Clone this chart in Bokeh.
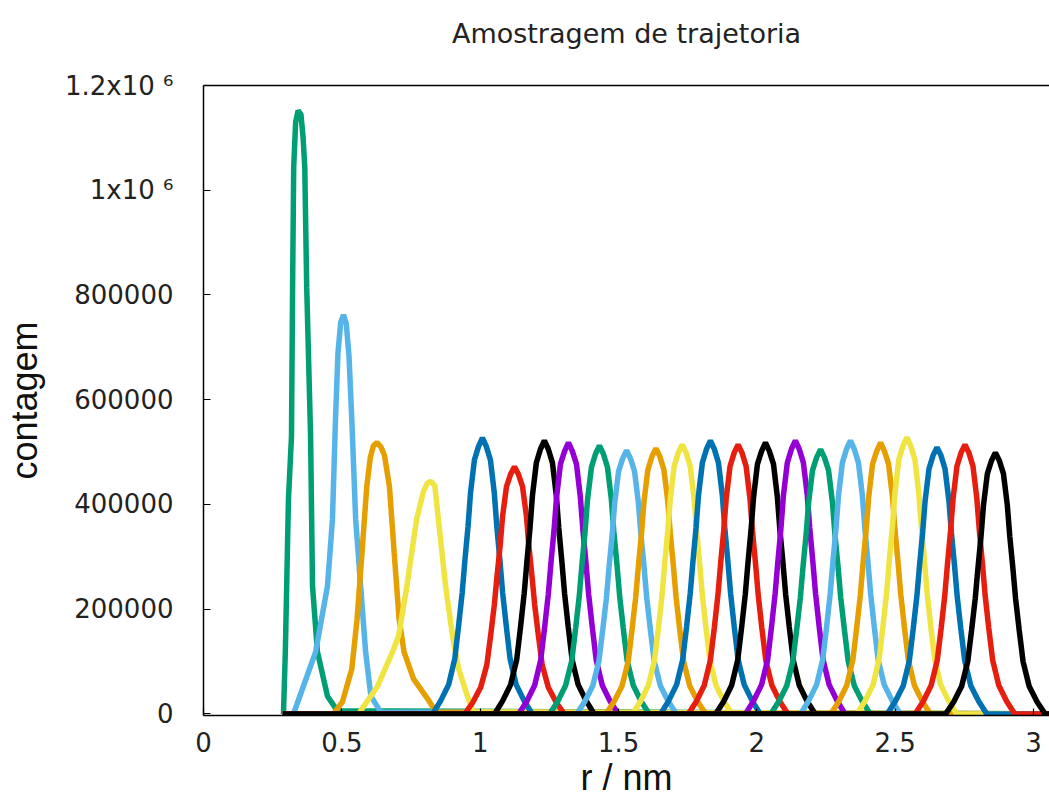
from bokeh.plotting import figure
from bokeh.models import FixedTicker, Range1d, LinearAxis
from bokeh.embed import file_html
from bokeh.resources import INLINE

# ---- data (r in nm, counts in thousands) ----
R_START = 0.286
R_END = 3.07

r01 = [0.289, 0.296, 0.307, 0.318, 0.322, 0.326, 0.333, 0.342, 0.352, 0.360, 0.366, 0.373, 0.387, 0.394, 0.412, 0.448, 0.484]
n01 = [0, 124, 410, 530, 815, 1044, 1130, 1152, 1145, 1100, 1044, 815, 530, 244, 118, 34, 6]
r02 = [0.325, 0.361, 0.405, 0.448, 0.466, 0.477, 0.486, 0.496, 0.506, 0.516, 0.526, 0.536, 0.550, 0.568, 0.586, 0.605, 0.640]
n02 = [0, 53, 118, 244, 371, 562, 690, 748, 762, 745, 682, 562, 371, 244, 118, 34, 4]
r03 = [0.470, 0.502, 0.536, 0.555, 0.573, 0.590, 0.603, 0.614, 0.627, 0.641, 0.654, 0.672, 0.689, 0.707, 0.725, 0.759, 0.810, 0.840]
n03 = [0, 23, 86, 181, 309, 434, 490, 512, 518, 510, 494, 434, 309, 181, 118, 67, 29, 4]
r04 = [0.560, 0.629, 0.683, 0.705, 0.735, 0.770, 0.795, 0.808, 0.822, 0.836, 0.849, 0.875, 0.900, 0.922, 0.954, 0.975]
n04 = [0, 53, 118, 149, 244, 371, 425, 440, 444, 436, 371, 244, 149, 86, 34, 4]
r05 = [0.828, 0.857, 0.886, 0.908, 0.922, 0.935, 0.945, 0.956, 0.965, 0.979, 0.994, 1.008, 1.022, 1.037, 1.051, 1.060, 1.071, 1.081, 1.094, 1.108, 1.130, 1.159, 1.188]
n05 = [0, 25, 56, 105, 169, 232, 295, 358, 422, 485, 511, 527, 511, 485, 422, 358, 295, 232, 169, 105, 56, 25, 0]
r06 = [0.944, 0.973, 1.002, 1.024, 1.038, 1.051, 1.061, 1.072, 1.081, 1.095, 1.110, 1.124, 1.138, 1.153, 1.167, 1.176, 1.187, 1.197, 1.210, 1.224, 1.246, 1.275, 1.304]
n06 = [0, 22, 51, 94, 151, 208, 264, 321, 378, 434, 458, 472, 458, 434, 378, 321, 264, 208, 151, 94, 51, 22, 0]
r07 = [1.052, 1.081, 1.110, 1.132, 1.146, 1.159, 1.169, 1.180, 1.189, 1.203, 1.218, 1.232, 1.246, 1.261, 1.275, 1.284, 1.295, 1.305, 1.318, 1.332, 1.354, 1.383, 1.412]
n07 = [0, 25, 56, 104, 167, 230, 292, 355, 418, 480, 506, 522, 506, 480, 418, 355, 292, 230, 167, 104, 56, 25, 0]
r08 = [1.139, 1.168, 1.197, 1.219, 1.233, 1.246, 1.256, 1.267, 1.276, 1.290, 1.305, 1.319, 1.333, 1.348, 1.362, 1.371, 1.382, 1.392, 1.405, 1.419, 1.441, 1.470, 1.499]
n08 = [0, 24, 55, 104, 166, 228, 290, 352, 414, 477, 502, 518, 502, 477, 414, 352, 290, 228, 166, 104, 55, 24, 0]
r09 = [1.251, 1.280, 1.309, 1.331, 1.345, 1.358, 1.368, 1.379, 1.388, 1.402, 1.417, 1.431, 1.445, 1.460, 1.474, 1.483, 1.494, 1.504, 1.517, 1.531, 1.553, 1.582, 1.611]
n09 = [0, 24, 55, 102, 164, 225, 287, 348, 410, 471, 497, 512, 497, 471, 410, 348, 287, 225, 164, 102, 55, 24, 0]
r10 = [1.349, 1.378, 1.407, 1.429, 1.443, 1.456, 1.466, 1.477, 1.486, 1.500, 1.515, 1.529, 1.543, 1.558, 1.572, 1.581, 1.592, 1.602, 1.615, 1.629, 1.651, 1.680, 1.709]
n10 = [0, 24, 54, 101, 161, 221, 282, 342, 402, 463, 488, 503, 488, 463, 402, 342, 282, 221, 161, 101, 54, 24, 0]
r11 = [1.455, 1.484, 1.513, 1.535, 1.549, 1.562, 1.572, 1.583, 1.592, 1.606, 1.621, 1.635, 1.649, 1.664, 1.678, 1.687, 1.698, 1.708, 1.721, 1.735, 1.757, 1.786, 1.815]
n11 = [0, 24, 54, 101, 162, 223, 284, 345, 406, 466, 492, 507, 492, 466, 406, 345, 284, 223, 162, 101, 54, 24, 0]
r12 = [1.550, 1.579, 1.608, 1.630, 1.644, 1.657, 1.667, 1.678, 1.687, 1.701, 1.716, 1.730, 1.744, 1.759, 1.773, 1.782, 1.793, 1.803, 1.816, 1.830, 1.852, 1.881, 1.910]
n12 = [0, 24, 55, 103, 164, 226, 288, 350, 411, 473, 499, 514, 499, 473, 411, 350, 288, 226, 164, 103, 55, 24, 0]
r13 = [1.652, 1.681, 1.710, 1.732, 1.746, 1.759, 1.769, 1.780, 1.789, 1.803, 1.818, 1.832, 1.846, 1.861, 1.875, 1.884, 1.895, 1.905, 1.918, 1.932, 1.954, 1.983, 2.012]
n13 = [0, 25, 56, 104, 167, 230, 292, 355, 418, 480, 506, 522, 506, 480, 418, 355, 292, 230, 167, 104, 56, 25, 0]
r14 = [1.752, 1.781, 1.810, 1.832, 1.846, 1.859, 1.869, 1.880, 1.889, 1.903, 1.918, 1.932, 1.946, 1.961, 1.975, 1.984, 1.995, 2.005, 2.018, 2.032, 2.054, 2.083, 2.112]
n14 = [0, 24, 55, 103, 164, 226, 288, 350, 411, 473, 499, 514, 499, 473, 411, 350, 288, 226, 164, 103, 55, 24, 0]
r15 = [1.851, 1.880, 1.909, 1.931, 1.945, 1.958, 1.968, 1.979, 1.988, 2.002, 2.017, 2.031, 2.045, 2.060, 2.074, 2.083, 2.094, 2.104, 2.117, 2.131, 2.153, 2.182, 2.211]
n15 = [0, 24, 55, 104, 166, 228, 290, 352, 414, 477, 502, 518, 502, 477, 414, 352, 290, 228, 166, 104, 55, 24, 0]
r16 = [1.959, 1.988, 2.017, 2.039, 2.053, 2.066, 2.076, 2.087, 2.096, 2.110, 2.125, 2.139, 2.153, 2.168, 2.182, 2.191, 2.202, 2.212, 2.225, 2.239, 2.261, 2.290, 2.319]
n16 = [0, 25, 56, 104, 167, 230, 292, 355, 418, 480, 506, 522, 506, 480, 418, 355, 292, 230, 167, 104, 56, 25, 0]
r17 = [2.050, 2.079, 2.108, 2.130, 2.144, 2.157, 2.167, 2.178, 2.187, 2.201, 2.216, 2.230, 2.244, 2.259, 2.273, 2.282, 2.293, 2.303, 2.316, 2.330, 2.352, 2.381, 2.410]
n17 = [0, 24, 54, 101, 162, 222, 283, 343, 404, 465, 490, 505, 490, 465, 404, 343, 283, 222, 162, 101, 54, 24, 0]
r18 = [2.158, 2.187, 2.216, 2.238, 2.252, 2.265, 2.275, 2.286, 2.295, 2.309, 2.324, 2.338, 2.352, 2.367, 2.381, 2.390, 2.401, 2.411, 2.424, 2.438, 2.460, 2.489, 2.518]
n18 = [0, 25, 56, 104, 167, 230, 292, 355, 418, 480, 506, 522, 506, 480, 418, 355, 292, 230, 167, 104, 56, 25, 0]
r19 = [2.267, 2.296, 2.325, 2.347, 2.361, 2.374, 2.384, 2.395, 2.404, 2.418, 2.433, 2.447, 2.461, 2.476, 2.490, 2.499, 2.510, 2.520, 2.533, 2.547, 2.569, 2.598, 2.627]
n19 = [0, 24, 55, 104, 166, 228, 290, 352, 414, 477, 502, 518, 502, 477, 414, 352, 290, 228, 166, 104, 55, 24, 0]
r20 = [2.362, 2.391, 2.420, 2.442, 2.456, 2.469, 2.479, 2.490, 2.499, 2.513, 2.528, 2.542, 2.556, 2.571, 2.585, 2.594, 2.605, 2.615, 2.628, 2.642, 2.664, 2.693, 2.722]
n20 = [0, 25, 56, 106, 169, 232, 296, 359, 422, 486, 512, 528, 512, 486, 422, 359, 296, 232, 169, 106, 56, 25, 0]
r21 = [2.471, 2.500, 2.529, 2.551, 2.565, 2.578, 2.588, 2.599, 2.608, 2.622, 2.637, 2.651, 2.665, 2.680, 2.694, 2.703, 2.714, 2.724, 2.737, 2.751, 2.773, 2.802, 2.831]
n21 = [0, 24, 54, 102, 163, 224, 285, 346, 407, 468, 494, 509, 494, 468, 407, 346, 285, 224, 163, 102, 54, 24, 0]
r22 = [2.572, 2.601, 2.630, 2.652, 2.666, 2.679, 2.689, 2.700, 2.709, 2.723, 2.738, 2.752, 2.766, 2.781, 2.795, 2.804, 2.815, 2.825, 2.838, 2.852, 2.874, 2.903, 2.932]
n22 = [0, 24, 55, 103, 164, 226, 288, 350, 411, 473, 499, 514, 499, 473, 411, 350, 288, 226, 164, 103, 55, 24, 0]
r23 = [2.682, 2.711, 2.740, 2.762, 2.776, 2.789, 2.799, 2.810, 2.819, 2.833, 2.848, 2.862, 2.876, 2.891, 2.905, 2.914, 2.925, 2.935, 2.948, 2.962, 2.984, 3.013, 3.042]
n23 = [0, 23, 53, 100, 160, 220, 279, 339, 399, 459, 484, 499, 484, 459, 399, 339, 279, 220, 160, 100, 53, 23, 0]

series_r = [r01, r02, r03, r04, r05, r06, r07, r08, r09, r10, r11, r12,
            r13, r14, r15, r16, r17, r18, r19, r20, r21, r22, r23]
series_n = [n01, n02, n03, n04, n05, n06, n07, n08, n09, n10, n11, n12,
            n13, n14, n15, n16, n17, n18, n19, n20, n21, n22, n23]

x_ticks = [0, 0.5, 1, 1.5, 2, 2.5, 3]
x_tick_labels = ["0", "0.5", "1", "1.5", "2", "2.5", "3"]
y_ticks = [0, 200000, 400000, 600000, 800000, 1000000, 1200000]
y_tick_labels = ["0", "200000", "400000", "600000", "800000", "1x10 \u2076", "1.2x10 \u2076"]

TITLE = "Amostragem de trajetoria"
X_LABEL = "r / nm"
Y_LABEL = "contagem"

X_MAX = 3.0575
Y_MIN = -2900
Y_MAX = 1200000

palette = ["#009e73", "#56b4e9", "#e69f00", "#f0e442", "#0072b2", "#e51e10", "#000000", "#9400d3"]

p = figure(width=1049, height=804, output_backend="svg", toolbar_location=None,
           x_range=Range1d(0, X_MAX), y_range=Range1d(Y_MIN, Y_MAX),
           min_border_left=203, min_border_right=0, min_border_top=85, min_border_bottom=89)

p.background_fill_color = "white"
p.border_fill_color = "white"
p.outline_line_color = None
p.xgrid.visible = False
p.ygrid.visible = False

for ax in (p.xaxis[0], p.yaxis[0]):
    ax.axis_line_color = "black"
    ax.axis_line_width = 1.5
    ax.major_tick_line_color = "black"
    ax.major_tick_line_width = 1.2
    ax.major_tick_in = 7
    ax.major_tick_out = 0
    ax.minor_tick_line_color = None
    ax.major_label_text_font = "DejaVu Sans"
    ax.major_label_text_font_size = "26px"
    ax.major_label_text_color = "#222222"
    ax.axis_label_text_font = "Liberation Sans"
    ax.axis_label_text_font_size = "36px"
    ax.axis_label_text_font_style = "normal"
    ax.axis_label_text_color = "#111111"

p.xaxis.ticker = FixedTicker(ticks=x_ticks)
p.xaxis.major_label_overrides = {t: l for t, l in zip(x_ticks, x_tick_labels)}
p.yaxis.ticker = FixedTicker(ticks=y_ticks)
p.yaxis.major_label_overrides = {t: l for t, l in zip(y_ticks, y_tick_labels)}
p.yaxis.axis_label = Y_LABEL
p.xaxis.axis_label = X_LABEL
p.xaxis.major_label_standoff = 16
p.xaxis.axis_label_standoff = 2
p.yaxis.major_label_standoff = 30
p.yaxis.axis_label_standoff = 17

# top border + title (as an empty axis above the frame)
top = LinearAxis(ticker=FixedTicker(ticks=[]), axis_label=TITLE)
top.axis_line_color = "black"
top.axis_line_width = 1.5
top.major_tick_line_color = None
top.minor_tick_line_color = None
top.major_label_text_font_size = "0px"
top.axis_label_text_font = "DejaVu Sans"
top.axis_label_text_font_size = "27px"
top.axis_label_text_font_style = "normal"
top.axis_label_text_color = "#222222"
top.axis_label_standoff = 37
p.add_layout(top, "above")

for i, (rs, ns) in enumerate(zip(series_r, series_n)):
    xs = [R_START] + rs + [R_END]
    ys = [0] + [v * 1000 for v in ns] + [0]
    p.line(xs, ys, line_color=palette[i % len(palette)], line_width=5.5)

open("out.html", "w").write(file_html(p, INLINE))
